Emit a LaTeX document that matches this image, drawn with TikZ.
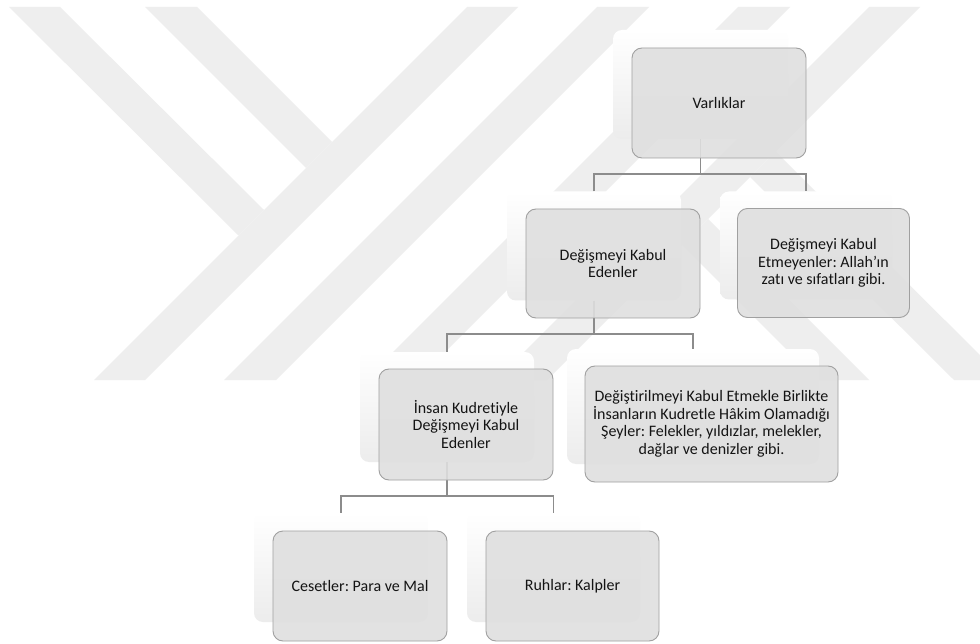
\documentclass[tikz,border=0pt]{standalone}
\usepackage{fontspec}
\setmainfont{Carlito}[Ligatures={NoCommon}]
\usetikzlibrary{calc}
\definecolor{wm}{RGB}{238,238,238}
\definecolor{boxfill}{RGB}{223,223,223}
\definecolor{boxline}{RGB}{160,160,160}
\definecolor{connc}{RGB}{140,140,140}
\definecolor{txt}{RGB}{20,20,20}
\definecolor{cardbot}{RGB}{236,236,236}
\tikzset{
  backcard/.style={rectangle, rounded corners=9pt, draw=none, top color=white, bottom color=cardbot, inner sep=0pt},
  frontbox/.style={rectangle, rounded corners=10pt, draw=boxline, line width=0.9pt, fill=boxfill, fill opacity=0.9, text opacity=1, text=txt, align=center, inner sep=0pt, font=\frenchspacing\fontsize{16}{17.5}\selectfont},
  conn/.style={draw=connc, line width=1.2pt},
  wmark/.style={fill=wm, draw=none}
}
\begin{document}
\begin{tikzpicture}[x=1pt,y=-1pt]
\useasboundingbox (0,0) rectangle (980,644);
\fill[white] (0,0) rectangle (980,644);
% watermark
\begin{scope}
\clip (0,0) rectangle (980,644);
\fill[wmark] (9,7) -- (60,7) -- (264,210) -- (238.5,235.5) -- cycle;
\fill[wmark] (145,7) -- (197,7) -- (332,142) -- (306,168) -- cycle;
\fill[wmark] (467,7) -- (518,7) -- (145,380) -- (94,380) -- cycle;
\fill[wmark] (597,7) -- (649,7) -- (276,380) -- (224,380) -- cycle;
\fill[wmark] (738,7) -- (790,7) -- (417,380) -- (365,380) -- cycle;
\fill[wmark] (869,7) -- (920,7) -- (547,380) -- (496,380) -- cycle;
\fill[wmark] (869,380) -- (817,380) -- (682,245) -- (708,219) -- cycle;
\fill[wmark] (1005,380) -- (954,380) -- (750,177) -- (775.5,151.5) -- cycle;
\end{scope}
% back cards
\node[backcard, minimum width=175pt, minimum height=109pt] (vb) at (700.5,84.5) {};
\node[backcard, minimum width=174pt, minimum height=109pt] (d2b) at (594,246) {};
\node[backcard, minimum width=172pt, minimum height=108pt] (e2b) at (806,245.5) {};
\node[backcard, minimum width=174pt, minimum height=110pt] (i3b) at (447,407) {};
\node[backcard, minimum width=252pt, minimum height=115pt] (s3b) at (693,406.5) {};
\node[backcard, minimum width=174pt, minimum height=109pt] (c4b) at (341,567.5) {};
\node[backcard, minimum width=173pt, minimum height=109pt] (r4b) at (553.5,567.5) {};
% bar levels
\coordinate (bar1) at (0,174);
\coordinate (bar2) at (0,334);
\coordinate (bar3) at (0,496);
% connectors
\draw[conn] (vb.south) -- (vb.south |- bar1);
\draw[conn] (d2b.north) |- (vb.south |- bar1) -| (e2b.north);
\draw[conn] (d2b.south) -- (d2b.south |- bar2);
\draw[conn] (i3b.north) |- (d2b.south |- bar2) -| (s3b.north);
\draw[conn] (i3b.south) -- (i3b.south |- bar3);
\draw[conn] (c4b.north) |- (i3b.south |- bar3) -| (r4b.north);
% front boxes
\node[frontbox, minimum width=174pt, minimum height=110pt] (v) at (719,103) {Varlıklar};
\node[frontbox, minimum width=174pt, minimum height=109pt] (d2) at (613,263.5) {Değişmeyi Kabul\\Edenler};
\node[frontbox, minimum width=172pt, minimum height=109pt] (e2) at (823.5,263) {Değişmeyi Kabul\\Etmeyenler: Allah’ın\\zatı ve sıfatları gibi.};
\node[frontbox, minimum width=174pt, minimum height=111pt] (i3) at (466,424.5) {İnsan Kudretiyle\\Değişmeyi Kabul\\Edenler};
\node[frontbox, minimum width=253pt, minimum height=116pt] (s3) at (711.5,424) {Değiştirilmeyi Kabul Etmekle Birlikte\\İnsanların Kudretle Hâkim Olamadığı\\Şeyler: Felekler, yıldızlar, melekler,\\dağlar ve denizler gibi.};
\node[frontbox, minimum width=174pt, minimum height=110pt] (c4) at (360,586) {Cesetler: Para ve Mal};
\node[frontbox, minimum width=173pt, minimum height=110pt] (r4) at (572.5,586) {Ruhlar: Kalpler};
\end{tikzpicture}
\end{document}
